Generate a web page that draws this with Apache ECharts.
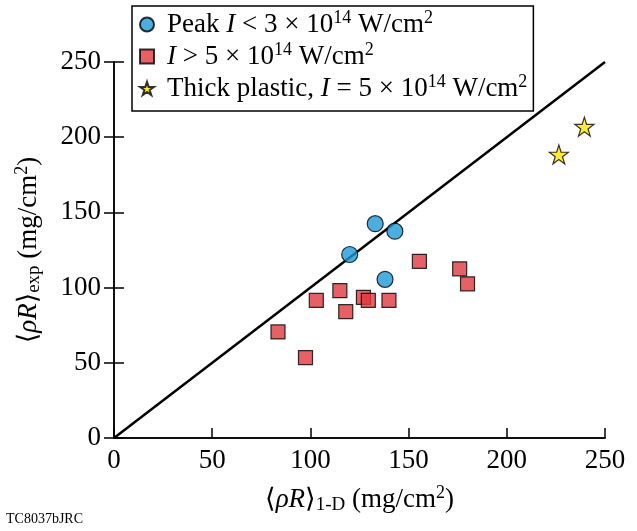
<!DOCTYPE html>
<html>
<head>
<meta charset="utf-8">
<script src="https://cdn.jsdelivr.net/npm/echarts@6/dist/echarts.min.js"></script>
<style>
html,body{margin:0;padding:0;background:#fff;}
#chart{width:637px;height:531px;}
</style>
</head>
<body>
<div id="chart"></div>
<script>
// Data (x = <ρR>1-D, y = <ρR>exp, mg/cm^2)
var peakLow = [[120,122],[133,142.5],[143,137.5],[138,105.5]];
var highI = [[83.5,70.5],[97.5,53.5],[103,91.5],[115,98],[118,84],[127,93.5],[129.5,91.5],[140,91.5],[155.5,117.5],[176,112.5],[180,102.5]];
var thickPlastic = [[226.5,188.5],[239.5,207]];
var unityLine = [[0,0],[250,250]];
var xTicks = [0,50,100,150,200,250];
var yTicks = [0,50,100,150,200,250];

var FONT = "'Liberation Serif','DejaVu Serif',serif";
var STAR = 'path://M50,0 L61.2,34.5 L97.6,34.5 L68.2,55.9 L79.4,90.5 L50,69.1 L20.6,90.5 L31.8,55.9 L2.4,34.5 L38.8,34.5 Z';

var legendNames = {
  peak: '{sp|}Peak {i|I} < 3 × 10{sup|14} W/cm{sup|2}',
  high: '{sp|}{i|I} > 5 × 10{sup|14} W/cm{sup|2}',
  thick: '{sp|}Thick plastic, {i|I} = 5 × 10{sup|14} W/cm{sup|2}'
};

var FS = 27;
var richBase = {
  i: {fontStyle:'italic', fontSize:FS, fontFamily:FONT, color:'#000'},
  sup: {fontSize:18, fontFamily:FONT, color:'#000', padding:[0,0,13,0]},
  sub: {fontSize:19, fontFamily:FONT, color:'#000', padding:[12,0,0,0]},
  a: {fontSize:FS, fontFamily:FONT, color:'#000'},
  sp: {width:8, fontSize:FS}
};

var chart = echarts.init(document.getElementById('chart'), null, {renderer:'canvas'});
var axisLine = {show:true, lineStyle:{color:'#000', width:1.5}};
var option = {
  backgroundColor:'#fff',
  animation:false,
  grid:{left:114, right:32, top:62, bottom:93, containLabel:false},
  legend:{
    data:['peak','high','thick'],
    orient:'vertical',
    left:132, top:6,
    backgroundColor:'#fff',
    borderColor:'#000', borderWidth:1.5, borderRadius:0,
    padding:[3,6,9,7],
    itemGap:3,
    itemWidth:14, itemHeight:14,
    z:10,
    formatter:function(n){return legendNames[n];},
    textStyle:{fontSize:FS, fontFamily:FONT, color:'#000', rich:richBase}
  },
  xAxis:[{
    type:'value', min:0, max:250, interval:50, position:'bottom',
    axisLine:axisLine,
    axisTick:{show:true, inside:true, length:10, lineStyle:{color:'#000', width:1.5}},
    splitLine:{show:false},
    axisLabel:{fontSize:FS, fontFamily:FONT, color:'#000', margin:9,
      formatter:function(v){return xTicks.indexOf(v)>=0? String(v):'';}},
    name:'{a|⟨}{i|ρR}{a|⟩}{sub|1-D}{a| (mg/cm}{sup|2}{a|)}',
    nameLocation:'middle', nameGap:46,
    nameTextStyle:{fontSize:FS, fontFamily:FONT, color:'#000', rich:richBase}
  },{
    type:'value', min:0, max:250, interval:50, position:'top',
    axisLine:axisLine, axisTick:{show:false}, axisLabel:{show:false}, splitLine:{show:false}
  }],
  yAxis:[{
    type:'value', min:0, max:250, interval:50, position:'left',
    axisLine:axisLine,
    axisTick:{show:true, inside:true, length:10, lineStyle:{color:'#000', width:1.5}},
    splitLine:{show:false},
    axisLabel:{fontSize:FS, fontFamily:FONT, color:'#000', margin:13,
      formatter:function(v){return yTicks.indexOf(v)>=0? String(v):'';}},
    name:'{a|⟨}{i|ρR}{a|⟩}{sub|exp}{a| (mg/cm}{sup|2}{a|)}',
    nameLocation:'middle', nameGap:70, nameRotate:90,
    nameTextStyle:{fontSize:FS, fontFamily:FONT, color:'#000', rich:richBase}
  },{
    type:'value', min:0, max:250, interval:50, position:'right',
    axisLine:axisLine,
    axisTick:{show:true, inside:true, length:10, lineStyle:{color:'#000', width:1.5}},
    axisLabel:{show:false}, splitLine:{show:false}
  }],
  series:[
    {type:'line', name:'unity', data:unityLine, symbol:'none', silent:true,
      lineStyle:{color:'#000', width:2.5}, z:1},
    {type:'scatter', name:'peak', data:peakLow, symbol:'circle', symbolSize:16,
      itemStyle:{color:'#1E9AD7', borderColor:'#000', borderWidth:1.2}, z:3},
    {type:'scatter', name:'high', data:highI, symbol:'rect', symbolSize:14,
      itemStyle:{color:'#E0393E', borderColor:'#000', borderWidth:1.2}, z:3},
    {type:'scatter', name:'thick', data:thickPlastic, symbol:STAR, symbolSize:19,
      itemStyle:{color:'#FFE600', borderColor:'#000', borderWidth:1.2}, z:3}
  ],
  graphic:[{type:'text', left:6, top:512,
    style:{text:'TC8037bJRC', fontSize:14, fontFamily:FONT, fill:'#000'}}]
};
chart.setOption(option);
</script>
</body>
</html>
